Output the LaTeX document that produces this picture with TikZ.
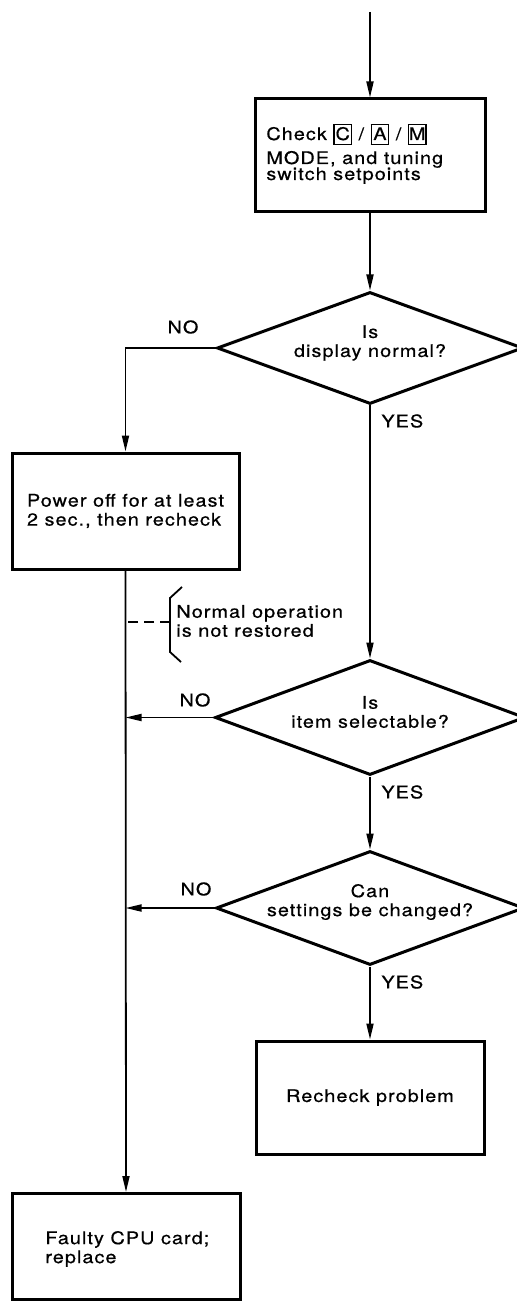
\documentclass[tikz,border=0pt]{standalone}
\usepackage{fontspec}
\setmainfont{TeX Gyre Heros}[FakeStretch=1.14,LetterSpace=6,FakeBold=0.6]
\usetikzlibrary{shapes.geometric,arrows.meta}
\newcommand\keybx[1]{{\setlength{\fboxsep}{0.8pt}\setlength{\fboxrule}{0.6pt}\fbox{\rule[-1pt]{0pt}{7.5pt}\makebox[6.5pt]{#1}}}}
\begin{document}
\begin{tikzpicture}[x=0.5pt,y=-0.5pt,
  font=\fontsize{8.7}{9.5}\selectfont,
  box/.style={draw,line width=1.5pt,inner sep=0pt},
  dia/.style={draw,shape=diamond,line width=1.5pt,inner sep=0pt},
  txt/.style={inner sep=0pt},
  conn/.style={line width=0.9pt},
  arr/.style={conn,-{Triangle[length=8pt,width=3.5pt]}},
  lab/.style={inner sep=0pt}]
\useasboundingbox (0,0) rectangle (517,1304);
\clip (0,0) rectangle (517,1304);

% boxes
\node[box,minimum width=115pt,minimum height=56.5pt] (b1) at (370,155.5) {};
\node[box,minimum width=113.5pt,minimum height=58pt] (b2) at (125.5,511) {};
\node[box,minimum width=114pt,minimum height=56.5pt] (b3) at (370,1097.5) {};
\node[box,minimum width=114pt,minimum height=53pt] (b4) at (126,1246.5) {};

% diamonds
\node[dia,minimum width=153pt,minimum height=56pt] (d1) at (370,348) {};
\node[dia,minimum width=155pt,minimum height=57.5pt] (d2) at (370,717.5) {};
\node[dia,minimum width=154pt,minimum height=57pt] (d3) at (370,908) {};

% texts
\node[txt,align=left,anchor=west] (t1) at (266,154) {Check \keybx{C} / \keybx{A} / \keybx{M}\\[2.5pt]MODE, and tuning\\[-1.5pt]switch setpoints};
\node[txt,align=left] (t2) at (b2) {Power off for at least\\2 sec., then recheck};
\node[txt,align=center] (t3) at (b3) {Recheck problem};
\node[txt,align=left,anchor=west] (t4) at (45,1249) {Faulty CPU card;\\replace};
\node[txt,align=center] (td1) at (370,343) {Is\\display normal?};
\node[txt,align=center] (td2) at (370,712) {Is\\item selectable?};
\node[txt,align=center] (td3) at (370,902) {Can\\settings be changed?};

% labels
\node[lab] (n1) at (183,327) {NO};
\node[lab] (n2) at (195,700) {NO};
\node[lab] (n3) at (196,889) {NO};
\node[lab,anchor=west] (y1) at (381,421) {YES};
\node[lab,anchor=west] (y2) at (381,792) {YES};
\node[lab,anchor=west] (y3) at (381,982) {YES};

% annotation
\node[txt,align=left,anchor=west] (ann) at (176,621) {Normal operation\\is not restored};
\coordinate (bk1) at (182,587);
\coordinate (bk2) at (170,598);
\coordinate (bk3) at (170,652);
\coordinate (bk4) at (181,662);
\draw[conn] (bk1) -- (bk2) -- (bk3) -- (bk4);
\coordinate (dsh) at (170,622);
\draw[conn,dash pattern=on 5pt off 3pt] (dsh) -- (dsh -| b2.south);

% connectors
\coordinate (start) at (370,12);
\draw[arr] (start) -- (b1.north);
\draw[arr] (b1.south) -- (d1.north);
\draw[arr] (d1.west) -| (b2.north);
\draw[arr] (d1.south) -- (d2.north);
\draw[arr] (d2.south) -- (d3.north);
\draw[arr] (d3.south) -- (b3.north);
\draw[arr] (b2.south) -- (b4.north);
\draw[arr] (d2.west) -- (d2.west -| b2.south);
\draw[arr] (d3.west) -- (d3.west -| b2.south);
\end{tikzpicture}
\end{document}
